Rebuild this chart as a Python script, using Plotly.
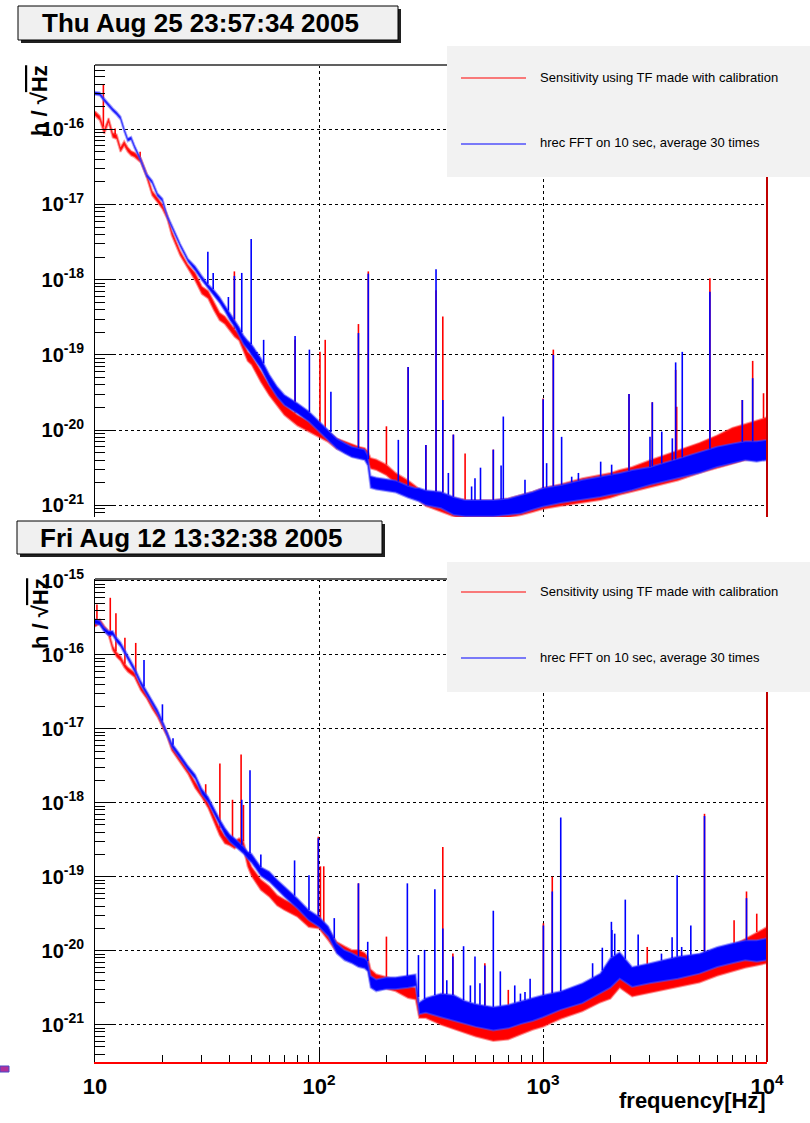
import numpy as np
import plotly.graph_objects as go

# ---------------------------------------------------------------------------
# Strain sensitivity spectra, h/sqrt(Hz). Amplitudes stored as log10 values.
# Each series is a noise band (lower / upper envelope) plus narrow lines.
# ---------------------------------------------------------------------------
FREQ_HZ = [10, 10.5, 11, 11.5, 12, 12.5, 13, 13.5, 14, 14.5,
           15, 16, 17, 18, 19, 20, 21, 22, 24, 26,
           28, 30, 32, 34, 36, 38, 40, 42, 44, 46,
           48, 50, 55, 60, 65, 70, 80, 90, 100, 110,
           120, 130, 140, 150, 160, 165, 170, 180, 200, 220,
           250, 270, 280, 300, 350, 400, 450, 500, 600, 700,
           800, 900, 1000, 1200, 1500, 1800, 2000, 2200, 2500, 3000,
           4000, 5000, 6000, 7000, 8000, 9000, 10000]

# --- Thu Aug 25 23:57:34 2005 ---------------------------------------------
top_red_lo = [-15.82, -15.88, -16.06, -15.91, -16.11, -16.13, -16.30, -16.22, -16.30, -16.35,
              -16.37, -16.44, -16.64, -16.88, -16.97, -17.06, -17.19, -17.41, -17.68, -17.86,
              -18.01, -18.19, -18.25, -18.41, -18.54, -18.59, -18.67, -18.76, -18.81, -18.95,
              -19.08, -19.13, -19.36, -19.54, -19.67, -19.80, -19.94, -20.02, -20.09, -20.16,
              -20.25, -20.29, -20.33, -20.36, -20.38, -20.42, -20.51, -20.53, -20.60, -20.71,
              -20.83, -20.90, -20.94, -21.01, -21.08, -21.15, -21.18, -21.18, -21.18, -21.16,
              -21.13, -21.09, -21.05, -21.01, -20.97, -20.93, -20.90, -20.86, -20.82, -20.76,
              -20.67, -20.57, -20.50, -20.45, -20.40, -20.38, -20.36]
top_red_hi = [-15.76, -15.82, -16.00, -15.85, -16.05, -16.07, -16.24, -16.16, -16.24, -16.29,
              -16.31, -16.38, -16.58, -16.82, -16.91, -17.00, -17.13, -17.35, -17.62, -17.80,
              -17.91, -18.09, -18.15, -18.31, -18.44, -18.49, -18.57, -18.66, -18.71, -18.83,
              -18.96, -19.01, -19.22, -19.40, -19.53, -19.66, -19.80, -19.88, -19.95, -20.02,
              -20.11, -20.15, -20.19, -20.22, -20.24, -20.28, -20.37, -20.39, -20.46, -20.57,
              -20.67, -20.74, -20.78, -20.85, -20.85, -20.90, -20.93, -20.93, -20.93, -20.91,
              -20.86, -20.82, -20.77, -20.72, -20.64, -20.59, -20.57, -20.53, -20.49, -20.40,
              -20.27, -20.17, -20.07, -19.97, -19.92, -19.87, -19.83]
top_blue_lo = [-15.54, -15.55, -15.63, -15.70, -15.76, -15.81, -15.87, -16.03, -16.16, -16.14,
               -16.25, -16.43, -16.63, -16.72, -16.89, -16.96, -17.18, -17.31, -17.56, -17.76,
               -17.88, -18.01, -18.12, -18.22, -18.31, -18.42, -18.54, -18.63, -18.75, -18.86,
               -18.93, -19.00, -19.18, -19.40, -19.56, -19.67, -19.78, -19.89, -20.02, -20.13,
               -20.25, -20.31, -20.36, -20.38, -20.40, -20.47, -20.77, -20.79, -20.81, -20.83,
               -20.90, -20.93, -20.95, -21.00, -21.04, -21.13, -21.15, -21.15, -21.15, -21.13,
               -21.11, -21.06, -21.02, -20.97, -20.93, -20.89, -20.86, -20.84, -20.80, -20.73,
               -20.64, -20.57, -20.49, -20.44, -20.40, -20.42, -20.40]
top_blue_hi = [-15.50, -15.51, -15.59, -15.66, -15.72, -15.77, -15.83, -15.99, -16.12, -16.10,
               -16.21, -16.39, -16.59, -16.68, -16.85, -16.92, -17.14, -17.27, -17.52, -17.72,
               -17.82, -17.95, -18.06, -18.14, -18.23, -18.34, -18.44, -18.53, -18.63, -18.74,
               -18.81, -18.86, -19.04, -19.26, -19.42, -19.53, -19.64, -19.75, -19.88, -19.99,
               -20.11, -20.17, -20.22, -20.24, -20.26, -20.33, -20.61, -20.63, -20.65, -20.67,
               -20.74, -20.77, -20.77, -20.80, -20.82, -20.89, -20.93, -20.93, -20.93, -20.91,
               -20.86, -20.82, -20.77, -20.73, -20.66, -20.62, -20.60, -20.57, -20.53, -20.49,
               -20.38, -20.29, -20.22, -20.18, -20.15, -20.15, -20.13]

top_red_line_hz = [10.9, 12.3, 15.9, 41.9, 78.2, 101, 106.6, 150, 166, 200, 250, 300,
                   333, 357, 398, 449, 600, 1002, 1112, 2421, 3076, 3910, 3952, 5560, 7760,
                   8630, 9650]
top_red_line_log = [-15.41, -15.99, -16.30, -17.89, -18.80, -18.96, -18.80, -18.59, -17.89, -19.95, -19.16, -20.20,
                    -18.14, -18.49, -20.06, -20.31, -20.26, -19.58, -18.93, -19.52, -19.63, -19.20, -19.69, -17.98, -19.60,
                    -19.08, -19.51]
top_blue_line_hz = [31.9, 33.7, 39.4, 41.9, 45.2, 49.8, 52.8, 56.6, 78.2, 90.6, 113, 150, 166,
                    226, 250, 300, 333, 357, 378, 398, 480, 497, 526, 600, 650, 665, 831,
                    1002, 1038, 1112, 1211, 1343, 1439, 1809, 2025, 2421, 3004, 3076, 3390,
                    3779, 3910, 4185, 5560, 7760, 8630]
top_blue_line_log = [-17.63, -17.91, -18.23, -17.95, -17.91, -17.46, -18.98, -18.80, -18.75, -18.93, -19.49, -18.71, -17.92,
                     -20.13, -19.16, -20.20, -17.86, -19.60, -20.57, -20.06, -20.75, -20.64, -20.50, -20.26, -20.47, -19.82, -20.66,
                     -19.59, -20.44, -19.00, -20.09, -20.62, -20.57, -20.42, -20.46, -19.52, -20.09, -19.63, -20.02,
                     -20.11, -19.10, -18.96, -18.16, -19.60, -19.31]

# --- Fri Aug 12 13:32:38 2005 ---------------------------------------------
bot_red_lo = [-15.62, -15.58, -15.67, -15.74, -15.94, -16.03, -16.08, -16.17, -16.23, -16.26,
              -16.30, -16.48, -16.59, -16.73, -16.84, -16.98, -17.11, -17.29, -17.45, -17.61,
              -17.80, -17.93, -18.07, -18.25, -18.44, -18.55, -18.58, -18.62, -18.58, -18.62,
              -18.86, -18.99, -19.18, -19.27, -19.39, -19.45, -19.54, -19.68, -19.70, -19.86,
              -20.02, -20.08, -20.13, -20.13, -20.17, -20.22, -20.41, -20.48, -20.52, -20.55,
              -20.64, -20.66, -20.91, -20.91, -21.00, -21.06, -21.12, -21.16, -21.22, -21.20,
              -21.13, -21.07, -21.03, -20.92, -20.82, -20.70, -20.65, -20.50, -20.62, -20.57,
              -20.50, -20.43, -20.34, -20.28, -20.23, -20.20, -20.17]
bot_red_hi = [-15.56, -15.52, -15.61, -15.68, -15.88, -15.97, -16.02, -16.11, -16.17, -16.20,
              -16.24, -16.42, -16.53, -16.67, -16.78, -16.92, -17.05, -17.23, -17.39, -17.55,
              -17.72, -17.85, -17.99, -18.17, -18.34, -18.45, -18.48, -18.52, -18.48, -18.52,
              -18.74, -18.87, -19.04, -19.13, -19.25, -19.31, -19.40, -19.54, -19.56, -19.72,
              -19.88, -19.94, -19.99, -19.99, -20.03, -20.08, -20.25, -20.32, -20.36, -20.39,
              -20.48, -20.50, -20.75, -20.75, -20.70, -20.78, -20.85, -20.88, -20.93, -20.90,
              -20.84, -20.80, -20.75, -20.68, -20.55, -20.42, -20.25, -20.20, -20.34, -20.29,
              -20.18, -20.10, -20.00, -19.93, -19.84, -19.75, -19.68]
bot_blue_lo = [-15.58, -15.60, -15.69, -15.74, -15.74, -15.83, -15.89, -15.98, -16.08, -16.17,
               -16.23, -16.41, -16.55, -16.68, -16.80, -16.95, -17.11, -17.25, -17.41, -17.56,
               -17.68, -17.89, -18.00, -18.16, -18.30, -18.44, -18.53, -18.58, -18.64, -18.69,
               -18.76, -18.81, -18.99, -19.07, -19.18, -19.27, -19.43, -19.59, -19.68, -19.81,
               -20.04, -20.13, -20.17, -20.22, -20.24, -20.28, -20.50, -20.55, -20.52, -20.52,
               -20.50, -20.48, -20.86, -20.84, -20.90, -20.95, -21.00, -21.03, -21.08, -21.05,
               -20.99, -20.95, -20.90, -20.80, -20.71, -20.58, -20.50, -20.38, -20.49, -20.44,
               -20.38, -20.31, -20.22, -20.17, -20.13, -20.15, -20.13]
bot_blue_hi = [-15.52, -15.54, -15.63, -15.68, -15.68, -15.77, -15.83, -15.92, -16.02, -16.11,
               -16.17, -16.35, -16.49, -16.62, -16.74, -16.89, -17.05, -17.19, -17.35, -17.50,
               -17.62, -17.81, -17.92, -18.08, -18.22, -18.34, -18.43, -18.48, -18.54, -18.59,
               -18.66, -18.69, -18.87, -18.93, -19.04, -19.13, -19.29, -19.45, -19.54, -19.67,
               -19.90, -19.99, -20.03, -20.08, -20.10, -20.14, -20.34, -20.39, -20.36, -20.36,
               -20.34, -20.32, -20.70, -20.64, -20.58, -20.60, -20.68, -20.72, -20.76, -20.73,
               -20.68, -20.64, -20.60, -20.55, -20.44, -20.31, -20.10, -20.02, -20.22, -20.17,
               -20.08, -20.04, -19.95, -19.90, -19.86, -19.86, -19.83]

bot_red_line_hz = [10.2, 11.7, 12.4, 13.6, 15.2, 31.2, 36.1, 41.1, 44.9, 46.0, 99.3, 101.5, 105,
                   150, 200, 357, 396, 550, 700, 1004, 1100, 2920, 5260, 7130, 8100, 9000]
bot_red_line_log = [-15.32, -15.23, -15.44, -15.77, -15.84, -17.75, -17.47, -17.96, -17.35, -18.03, -18.46, -18.86, -18.86,
                    -19.09, -19.81, -18.60, -20.04, -20.17, -20.53, -19.63, -19.00, -19.95, -18.15, -19.59, -19.20, -19.50]
bot_blue_line_hz = [16.55, 20.0, 22.3, 45.2, 49.2, 55.0, 77.8, 90.2, 99.3, 117, 150, 165, 248, 278, 296,
                    329, 357, 372, 396, 442, 474, 497, 523, 550, 600, 645, 748, 793, 831, 876, 1004,
                    1100, 1200, 1665, 1840, 2020, 2031, 2090, 2330, 2660, 3380, 3770, 3970, 4160,
                    4570, 5260, 8100]
bot_blue_line_log = [-16.07, -16.67, -17.13, -17.96, -17.56, -18.70, -18.78, -18.98, -18.48, -19.56, -19.09, -19.88, -19.09, -20.06, -19.99,
                     -19.17, -19.70, -20.40, -20.08, -19.94, -20.47, -20.08, -20.44, -20.20, -19.46, -20.28, -20.47, -20.58, -20.56, -20.38, -19.66,
                     -19.20, -18.20, -20.17, -19.96, -19.61, -19.72, -19.77, -19.31, -19.78, -20.04, -19.82, -18.98, -19.95,
                     -19.66, -18.18, -19.29]

TITLES = ["Thu Aug 25 23:57:34 2005", "Fri Aug 12 13:32:38 2005"]
LEGEND_TEXT = ["Sensitivity using TF made with calibration",
               "hrec FFT on 10 sec, average 30 times"]
X_TICKS = [10, 100, 1000, 10000]
X_TICK_TEXT = ["10", "10<sup>2</sup>", "10<sup>3</sup>", "10<sup>4</sup>"]

RED = "#ff0000"
BLUE = "#0000ff"
RED_EDGE = "rgba(255,60,60,0.5)"
BLUE_EDGE = "rgba(80,80,255,0.5)"
FONT = "Liberation Sans"

W, H = 810, 1123


def px(x):
    return x / W


def py(y):
    return 1 - y / H


fig = go.Figure()
logf = np.log10(FREQ_HZ)


def add_band(xa, ya, lo, hi, fill, edge):
    # solid core between the envelopes with a soft fringe along both edges
    fig.add_trace(go.Scatter(x=FREQ_HZ, y=10 ** np.array(lo), mode="lines",
                             line=dict(color=edge, width=2), xaxis=xa, yaxis=ya,
                             showlegend=False, hoverinfo="skip"))
    fig.add_trace(go.Scatter(x=FREQ_HZ, y=10 ** np.array(hi), mode="lines",
                             line=dict(color=edge, width=2), fill="tonexty", fillcolor=fill,
                             xaxis=xa, yaxis=ya, showlegend=False, hoverinfo="skip"))


def add_lines(xa, ya, hi, line_hz, line_log, color):
    base = np.interp(np.log10(line_hz), logf, hi)
    xs, ys = [], []
    for f0, b, p in zip(line_hz, base, line_log):
        xs += [f0, f0, None]
        ys += [10 ** b, 10 ** p, None]
    fig.add_trace(go.Scatter(x=xs, y=ys, mode="lines", line=dict(color=color, width=1.6),
                             xaxis=xa, yaxis=ya, showlegend=False, hoverinfo="skip",
                             connectgaps=False))


# top pad
add_band("x", "y", top_red_lo, top_red_hi, RED, RED_EDGE)
add_lines("x", "y", top_red_hi, top_red_line_hz, top_red_line_log, RED)
add_band("x", "y", top_blue_lo, top_blue_hi, BLUE, BLUE_EDGE)
add_lines("x", "y", top_blue_hi, top_blue_line_hz, top_blue_line_log, BLUE)
# bottom pad
add_band("x2", "y2", bot_red_lo, bot_red_hi, RED, RED_EDGE)
add_lines("x2", "y2", bot_red_hi, bot_red_line_hz, bot_red_line_log, RED)
add_band("x2", "y2", bot_blue_lo, bot_blue_hi, BLUE, BLUE_EDGE)
add_lines("x2", "y2", bot_blue_hi, bot_blue_line_hz, bot_blue_line_log, BLUE)

# axes ------------------------------------------------------------------
y_major = [10.0 ** e for e in range(-21, -14)]
y_major_text = ["10<sup>%d</sup>" % e for e in range(-21, -14)]
y_minor = [k * 10.0 ** e for e in range(-22, -14) for k in range(2, 10)]
x_minor = [k * 10.0 ** e for e in range(1, 4) for k in range(2, 10)]

grid = dict(showgrid=True, gridcolor="black", gridwidth=1, griddash="dot", zeroline=False,
            automargin=False)
x_dom = [px(95), px(767)]

common_y = dict(type="log", tickmode="array", tickvals=y_major, ticktext=y_major_text,
                ticks="inside", ticklen=20, tickwidth=1, tickcolor="black",
                showline=True, linecolor="black", linewidth=1,
                tickfont=dict(family=FONT, size=20, color="black", weight="bold"),
                ticklabelstandoff=6,
                minor=dict(tickmode="array", tickvals=y_minor, ticks="inside", ticklen=10,
                           tickcolor="black", tickwidth=1, showgrid=False),
                **grid)

fig.update_layout(
    width=W, height=H, margin=dict(l=0, r=0, t=0, b=0, pad=0, autoexpand=False),
    autosize=False, paper_bgcolor="white", plot_bgcolor="white", showlegend=False,
    xaxis=dict(type="log", range=[1, 4], domain=x_dom, anchor="y", tickmode="array",
               tickvals=X_TICKS, showticklabels=False, ticks="", showline=False, **grid),
    yaxis=dict(domain=[py(517), py(65)], range=[-21.156, -15.145], anchor="x", **common_y),
    xaxis2=dict(type="log", range=[1, 4], domain=x_dom, anchor="y2", tickmode="array",
                tickvals=X_TICKS, ticktext=X_TICK_TEXT, ticks="inside", ticklen=13,
                tickcolor="black", tickwidth=1, showline=True, linecolor=RED, linewidth=2,
                tickfont=dict(family=FONT, size=22, color="black", weight="bold"),
                ticklabelstandoff=4,
                minor=dict(tickmode="array", tickvals=x_minor, ticks="inside", ticklen=7,
                           tickcolor="black", tickwidth=1, showgrid=False),
                **grid),
    yaxis2=dict(domain=[py(1062), py(579)], range=[-21.505, -14.976], anchor="x2", **common_y),
)

shapes = []
annotations = []

for xref, yref in (("x domain", "y domain"), ("x2 domain", "y2 domain")):
    # frame top edge and right edge (the last bin falls to zero along the frame)
    shapes.append(dict(type="line", xref=xref, yref=yref, x0=0, x1=1, y0=1, y1=1,
                       line=dict(color="#606060", width=2), layer="above"))
    shapes.append(dict(type="line", xref=xref, yref=yref, x0=1, x1=1, y0=0, y1=1,
                       line=dict(color="#c00000", width=2), layer="above"))

# pad titles and legends
title_boxes = [(18, 6, 398, 40), (17, 521, 382, 554)]
legend_boxes = [(447, 46, 810, 177), (447, 562, 810, 692)]
legend_rows = [(78, 144), (592, 658)]

for (x0, y0, x1, y1), title in zip(title_boxes, TITLES):
    shapes.append(dict(type="rect", xref="paper", yref="paper", x0=px(x0 + 3), x1=px(x1 + 3),
                       y0=py(y0 + 3), y1=py(y1 + 3), fillcolor="#202020",
                       line=dict(width=0), layer="above"))
    shapes.append(dict(type="rect", xref="paper", yref="paper", x0=px(x0), x1=px(x1),
                       y0=py(y0), y1=py(y1), fillcolor="#f0f0f0",
                       line=dict(color="black", width=1), layer="above"))
    annotations.append(dict(xref="paper", yref="paper", x=px((x0 + x1) / 2 - 8), y=py((y0 + y1) / 2),
                            text="<b>%s</b>" % title, showarrow=False, xanchor="center",
                            yanchor="middle", font=dict(family=FONT, size=26, color="black")))

for (x0, y0, x1, y1), (r_y, b_y) in zip(legend_boxes, legend_rows):
    shapes.append(dict(type="rect", xref="paper", yref="paper", x0=px(x0), x1=px(x1),
                       y0=py(y0), y1=py(y1), fillcolor="#f2f2f2", line=dict(width=0),
                       layer="above"))
    for yy, color, text in ((r_y, RED, LEGEND_TEXT[0]), (b_y, BLUE, LEGEND_TEXT[1])):
        shapes.append(dict(type="line", xref="paper", yref="paper", x0=px(461), x1=px(526),
                           y0=py(yy), y1=py(yy), line=dict(color=color, width=1),
                           layer="above"))
        annotations.append(dict(xref="paper", yref="paper", x=px(538), y=py(yy - 1),
                                text=text, showarrow=False, xanchor="left", yanchor="middle",
                                font=dict(family=FONT, size=13, color="black")))

# axis titles
for yc in (101, 614):
    annotations.append(dict(xref="paper", yref="paper", x=px(40), y=py(yc),
                            text="<b>h / √<span style='text-decoration:overline'>Hz</span></b>",
                            showarrow=False, textangle=-90, xanchor="center", yanchor="middle",
                            font=dict(family=FONT, size=22, color="black")))
annotations.append(dict(xref="paper", yref="paper", x=px(768), y=py(1100),
                        text="<b>frequency[Hz]</b>", showarrow=False, xanchor="right",
                        yanchor="middle", font=dict(family=FONT, size=22, color="black")))

# small marker at the lower left edge of the canvas
shapes.append(dict(type="rect", xref="paper", yref="paper", x0=0, x1=px(9), y0=py(1072),
                   y1=py(1066), fillcolor="#b0309a", line=dict(color="#4848c8", width=1),
                   layer="above"))

fig.update_layout(shapes=shapes, annotations=annotations)
fig.write_html("out.html")
